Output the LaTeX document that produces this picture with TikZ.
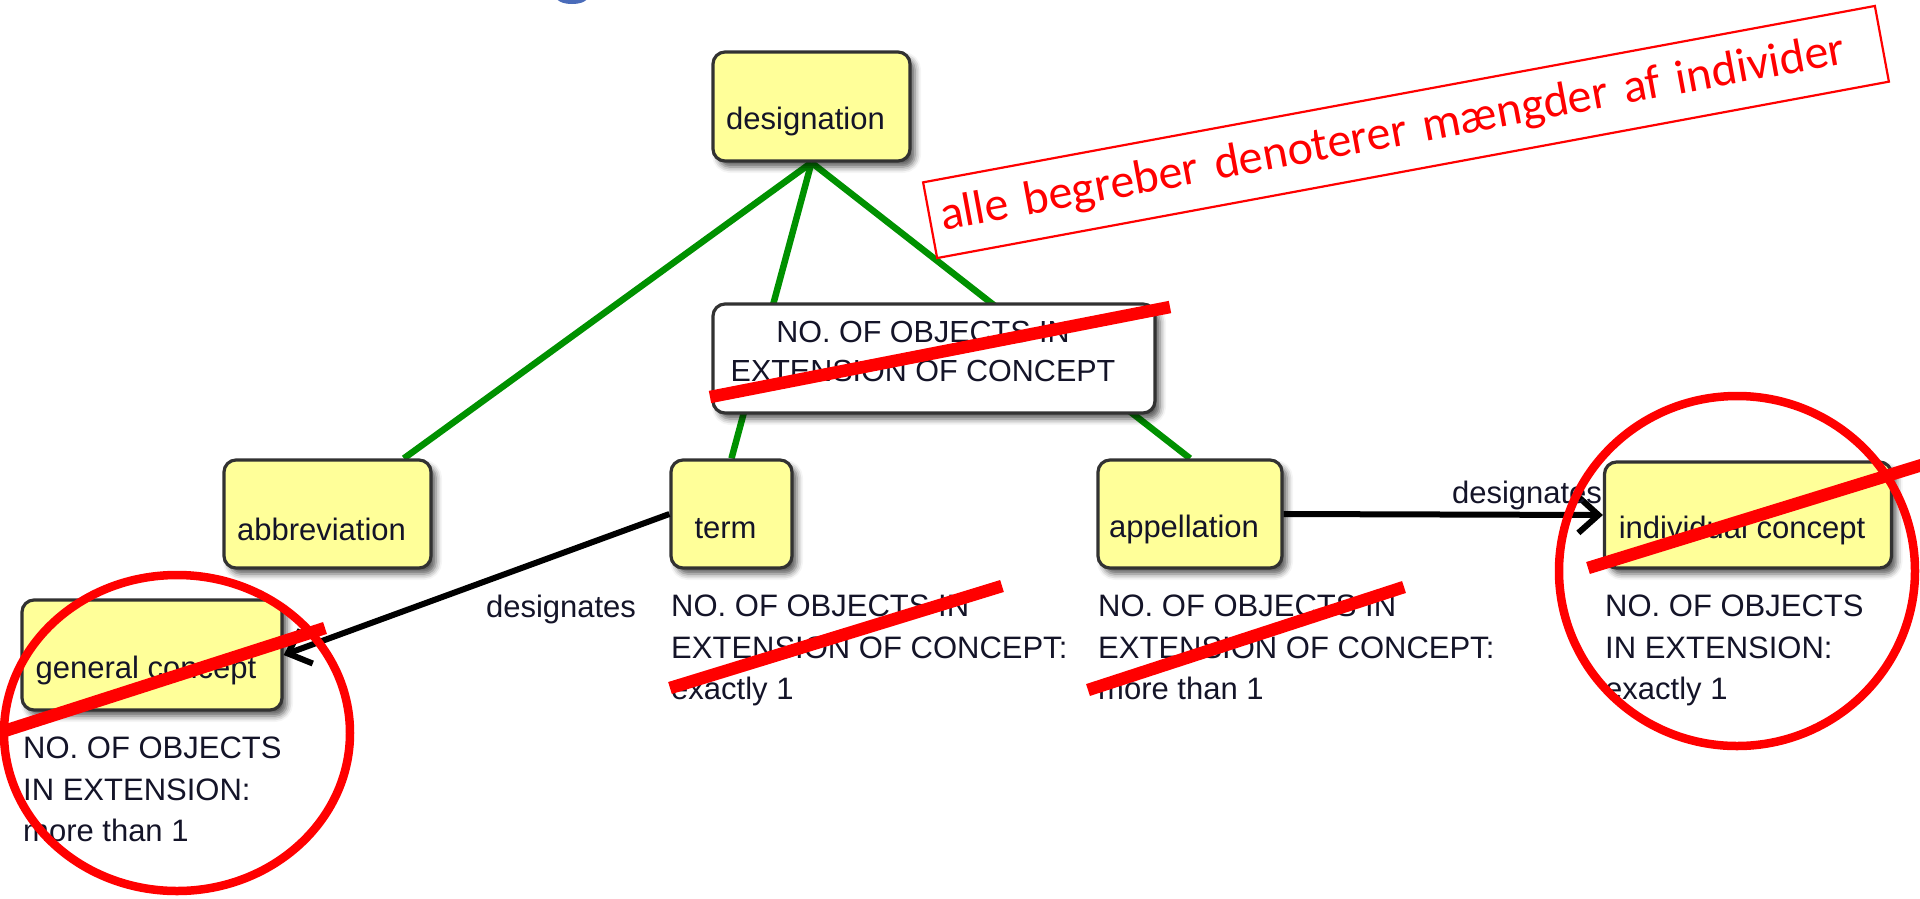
\documentclass[tikz,border=0pt]{standalone}
\usepackage{fontspec}
\setmainfont{Liberation Sans}
\newfontfamily\calibfont{Carlito}
\usetikzlibrary{arrows.meta,shadows.blur,backgrounds}
\definecolor{cyellow}{RGB}{255,255,153}
\definecolor{cborder}{RGB}{50,50,50}
\definecolor{cgreen}{RGB}{0,145,0}
\definecolor{ctxt}{RGB}{20,20,40}
\definecolor{cblue}{RGB}{74,108,186}
\begin{document}
\begin{tikzpicture}[x=1pt,y=-1pt,
  concept/.style={draw=cborder, line width=3.2pt, fill=cyellow, rounded corners=12pt, inner sep=0pt,
    blur shadow={shadow xshift=5pt, shadow yshift=-6pt, shadow blur radius=6pt, shadow opacity=65}},
  ctext/.style={font=\fontsize{31}{41.5}\selectfont, text=ctxt},
  clabel/.style={ctext, anchor=base, yshift=-15pt, xshift=-6pt},
  attr/.style={ctext, align=left, anchor=north west, inner sep=0pt},
  linklabel/.style={ctext, anchor=base, inner sep=0pt},
  hier/.style={draw=cgreen, line width=6.5pt},
  desig/.style={draw=black, line width=6pt, -{Straight Barb[length=20pt,width=36pt]}},
  strike/.style={draw=red, line width=12.5pt},
  ring/.style={draw=red, line width=8.5pt},
]
\useasboundingbox (0,0) rectangle (1920,898);

% fragment of blue title letter at top edge
\fill[cblue] (572,-3) ellipse [x radius=16pt, y radius=7pt];

% concept boxes
\node[concept, minimum width=197pt, minimum height=109pt,
  label={[clabel]center:designation}] (designation) at (811.5,106.5) {};
\node[concept, minimum width=207pt, minimum height=108pt,
  label={[clabel]center:abbreviation}] (abbreviation) at (327.5,514) {};
\node[concept, minimum width=121pt, minimum height=108pt,
  label={[clabel]center:term}] (term) at (731.5,514) {};
\node[concept, minimum width=184pt, minimum height=108pt,
  label={[clabel]center:appellation}] (appellation) at (1190,514) {};
\node[concept, minimum width=287pt, minimum height=106pt,
  label={[clabel]center:individual concept}] (individual) at (1748,515) {};
\node[concept, minimum width=260pt, minimum height=110pt,
  label={[clabel]center:general concept}] (general) at (152,655) {};

\node[concept, fill=white, minimum width=442pt, minimum height=109pt,
  label={[ctext, font=\fontsize{30.5}{39}\selectfont, align=center, yshift=7.5pt, xshift=-11pt]center:NO. OF OBJECTS IN\\EXTENSION OF CONCEPT}] (extbox) at (934,358.5) {};

% green hierarchy lines
\begin{scope}[on background layer]
\draw[hier] (designation.south) -- (abbreviation);
\draw[hier] (designation.south) -- (term.north);
\draw[hier] (designation.south) -- (appellation.north);
\end{scope}

% designates arrows
\draw[desig] (term.west) -- (general.east);
\draw[desig] (appellation.east) -- (individual.west);
\node[linklabel] (lab1) at (561,617) {designates};
\node[linklabel] (lab2) at (1527,503) {designates};

% attribute texts
\node[attr] (gennote) at (23,737) {NO. OF OBJECTS\\IN EXTENSION:\\more than 1};
\node[attr] (termnote) at (671,595) {NO. OF OBJECTS IN\\EXTENSION OF CONCEPT:\\exactly 1};
\node[attr] (appnote) at (1098,595) {NO. OF OBJECTS IN\\EXTENSION OF CONCEPT:\\more than 1};
\node[attr] (indnote) at (1605,595) {NO. OF OBJECTS\\IN EXTENSION:\\exactly 1};

% red strike-outs
\draw[strike] (710,397) -- (1170,307);
\draw[strike] (670,688) -- (1002,586);
\draw[strike] (1088,690) -- (1404,587);
\draw[strike] (1588,568) -- (1925,464);
\draw[strike] (-5,734) -- (325,628);

% red rings
\draw[ring] (177,733) ellipse [x radius=173pt, y radius=158pt];
\draw[ring] (1737,571) ellipse [x radius=178pt, y radius=175pt];

% red note
\node[rotate=10.5, draw=red, line width=2.2pt, minimum height=77pt, text width=946pt,
  inner xsep=11pt, inner ysep=0pt, align=left, text=red,
  font=\calibfont\fontsize{48}{55}\selectfont] (note) at (1406,132)
  {alle begreber denoterer mængder af individer};
\end{tikzpicture}
\end{document}
